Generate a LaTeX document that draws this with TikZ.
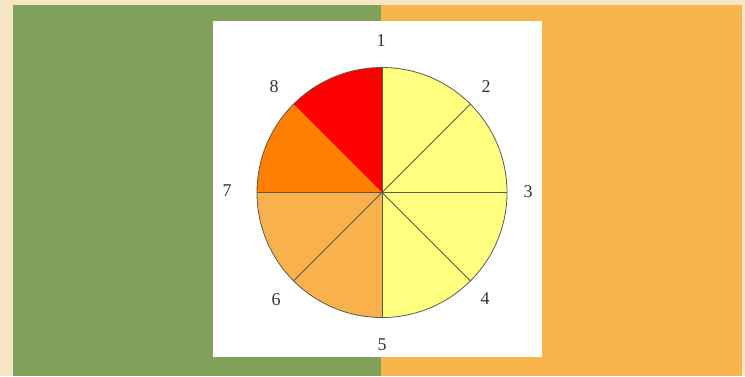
\documentclass[tikz,border=0pt]{standalone}
\usepackage{fontspec}
\setmainfont{Liberation Serif}
\definecolor{parch}{HTML}{F7E6C4}
\definecolor{panelgreen}{HTML}{7FA15B}
\definecolor{panelorange}{HTML}{F8B54C}
\definecolor{segred}{HTML}{FF0000}
\definecolor{segorange}{HTML}{FF8000}
\definecolor{seglight}{HTML}{F8B14B}
\definecolor{segyellow}{HTML}{FFFF80}
\definecolor{edge}{HTML}{5A5A50}
\definecolor{labelgray}{HTML}{333333}
\begin{document}
\begin{tikzpicture}[x=1pt,y=-1pt,
  seg/.style={draw=edge,line width=0.8pt},
  lbl/.style={font=\fontsize{18}{20}\selectfont,text=labelgray,inner sep=0pt}]
\useasboundingbox (0,0) rectangle (745,376);
\fill[parch] (0,0) rectangle (745,376);
\fill[panelgreen] (13,5) rectangle (381,376);
\fill[panelorange] (381,5) rectangle (742,376);
\fill[white] (213,21) rectangle (542,357);
\coordinate (c) at (382,192.5);
% sectors (angles measured with y flipped: use negative angles for upward)
\def\R{125}
\fill[segyellow] (c) -- ++(-90:\R) arc[start angle=-90,end angle=90,radius=\R] -- cycle;
\fill[segred] (c) -- ++(-90:\R) arc[start angle=-90,end angle=-135,radius=\R] -- cycle;
\fill[segorange] (c) -- ++(-135:\R) arc[start angle=-135,end angle=-180,radius=\R] -- cycle;
\fill[seglight] (c) -- ++(180:\R) arc[start angle=180,end angle=90,radius=\R] -- cycle;
\foreach \a in {-90,-45,0,45,90,135,180}
  \draw[seg] (c) -- ++(\a:\R);
\draw[seg] (c) circle[radius=\R];
\node[lbl] (l1) at (381,41) {1};
\node[lbl] (l2) at (486,87) {2};
\node[lbl] (l3) at (528,192) {3};
\node[lbl] (l4) at (485,299) {4};
\node[lbl] (l5) at (382,345) {5};
\node[lbl] (l6) at (276,300) {6};
\node[lbl] (l7) at (227,191) {7};
\node[lbl] (l8) at (274,87) {8};
\end{tikzpicture}
\end{document}
